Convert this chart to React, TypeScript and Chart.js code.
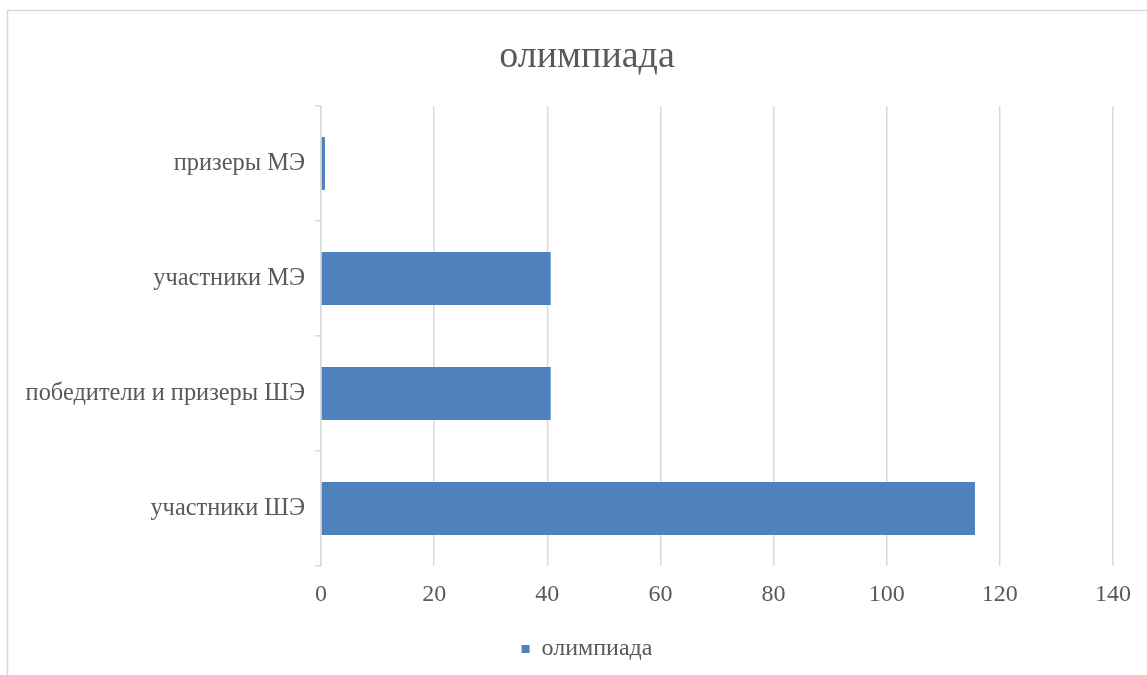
import React, { useEffect, useRef } from "react";
import { Chart, registerables } from "chart.js";

Chart.register(...registerables);

const categories = ["участники ШЭ", "победители и призеры ШЭ", "участники МЭ", "призеры МЭ"];
const seriesName = "олимпиада";
const values = [115.6, 40.6, 40.6, 0.7];
const chartTitle = "олимпиада";
const xMin = 0;
const xMax = 140;
const xStep = 20;

const FONT = "'Liberation Serif', 'Times New Roman', serif";
const TEXT = "#595959";
const GRID = "#d9d9d9";

const frame = {
  id: "frame",
  beforeDraw(chart: any) {
    const ctx = chart.ctx;
    ctx.save();
    ctx.fillStyle = "#ffffff";
    ctx.fillRect(0, 0, chart.width, chart.height);
    ctx.strokeStyle = GRID;
    ctx.lineWidth = 1.5;
    ctx.strokeRect(7.5, 10.5, chart.width + 50, chart.height + 50);
    ctx.restore();
  },
};

export default function App() {
  const ref = useRef<HTMLCanvasElement | null>(null);
  useEffect(() => {
    document.body.style.margin = "0";
    document.body.style.overflow = "hidden";
    const chart = new Chart(ref.current as HTMLCanvasElement, {
      type: "bar",
      data: {
        labels: categories,
        datasets: [
          {
            label: seriesName,
            data: values,
            backgroundColor: "#4f81bd",
            borderWidth: 0,
            categoryPercentage: 1,
            barPercentage: 0.46,
          },
        ],
      },
      options: {
        indexAxis: "y",
        animation: false,
        responsive: false,
        layout: { padding: { left: 0, right: 0, top: 0, bottom: 4 } },
        plugins: {
          tooltip: { enabled: false },
          title: {
            display: true,
            text: chartTitle,
            color: TEXT,
            font: { family: FONT, size: 38, weight: "normal" },
            padding: { top: 34, bottom: 26.4 },
          },
          legend: {
            display: true,
            position: "bottom",
            labels: {
              color: TEXT,
              font: { family: FONT, size: 24 },
              boxWidth: 8,
              boxHeight: 8,
              padding: 10,
            },
          },
        },
        scales: {
          x: {
            min: xMin,
            max: xMax,
            ticks: {
              stepSize: xStep,
              color: TEXT,
              font: { family: FONT, size: 24 },
              padding: 14,
            },
            grid: { color: GRID, lineWidth: 1.5, drawTicks: false },
            border: { display: false },
            afterFit(scale: any) {
              scale.height = 61;
            },
          },
          y: {
            reverse: true,
            ticks: {
              color: TEXT,
              font: { family: FONT, size: 24.4 },
              padding: 10,
            },
            grid: {
              offset: true,
              drawOnChartArea: false,
              drawTicks: true,
              tickLength: 6,
              color: GRID,
              lineWidth: 1.5,
            },
            border: { display: true, color: GRID, width: 1.5 },
            afterFit(scale: any) {
              scale.width = 321;
            },
          },
          yRight: {
            type: "linear",
            axis: "y",
            position: "right",
            display: true,
            ticks: { display: false },
            grid: { display: false },
            border: { display: false },
            afterFit(scale: any) {
              scale.width = 61;
            },
          },
        },
      },
      plugins: [frame],
    });
    return () => chart.destroy();
  }, []);
  return (
    <div style={{ width: 1147, height: 675, overflow: "hidden" }}>
      <canvas ref={ref} width={1174} height={675} style={{ display: "block" }} />
    </div>
  );
}
